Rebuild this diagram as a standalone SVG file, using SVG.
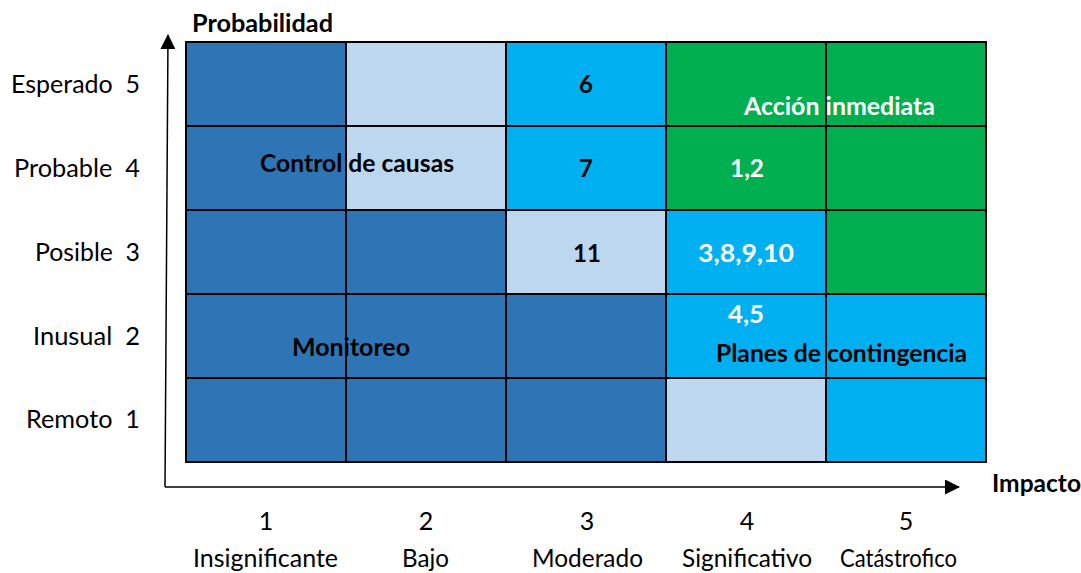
<svg xmlns="http://www.w3.org/2000/svg" width="1081" height="573" viewBox="0 0 1081 573">
<defs>
<style>
.dk{fill:#2E75B6}
.lt{fill:#BDD7EE}
.cy{fill:#00B0F0}
.gr{fill:#00B050}
.grid{stroke:#000;stroke-width:2;fill:none}
.lbl{font-family:Lato,"Open Sans","Liberation Sans",sans-serif;font-size:25px;fill:#000}
.b{font-family:Lato,"Open Sans","Liberation Sans",sans-serif;font-size:24px;font-weight:bold;fill:#000}
.w{fill:#fff}
.ax{stroke:#000;stroke-width:1.5;fill:none}
</style>
<marker id="ah" markerWidth="15" markerHeight="15" refX="14" refY="7.5" orient="auto" markerUnits="userSpaceOnUse">
<path d="M0,0 L15,7.5 L0,15 Z" fill="#000"/>
</marker>
</defs>
<rect width="1081" height="573" fill="#fff"/>

<g id="cells">
<rect class="dk" x="186" y="42" width="160" height="84"/>
<rect class="lt" x="346" y="42" width="160" height="84"/>
<rect class="cy" x="506" y="42" width="160" height="84"/>
<rect class="gr" x="666" y="42" width="160" height="84"/>
<rect class="gr" x="826" y="42" width="160" height="84"/>

<rect class="dk" x="186" y="126" width="160" height="84"/>
<rect class="lt" x="346" y="126" width="160" height="84"/>
<rect class="cy" x="506" y="126" width="160" height="84"/>
<rect class="gr" x="666" y="126" width="160" height="84"/>
<rect class="gr" x="826" y="126" width="160" height="84"/>

<rect class="dk" x="186" y="210" width="160" height="84"/>
<rect class="dk" x="346" y="210" width="160" height="84"/>
<rect class="lt" x="506" y="210" width="160" height="84"/>
<rect class="cy" x="666" y="210" width="160" height="84"/>
<rect class="gr" x="826" y="210" width="160" height="84"/>

<rect class="dk" x="186" y="294" width="160" height="84"/>
<rect class="dk" x="346" y="294" width="160" height="84"/>
<rect class="dk" x="506" y="294" width="160" height="84"/>
<rect class="cy" x="666" y="294" width="160" height="84"/>
<rect class="cy" x="826" y="294" width="160" height="84"/>

<rect class="dk" x="186" y="378" width="160" height="84"/>
<rect class="dk" x="346" y="378" width="160" height="84"/>
<rect class="dk" x="506" y="378" width="160" height="84"/>
<rect class="lt" x="666" y="378" width="160" height="84"/>
<rect class="cy" x="826" y="378" width="160" height="84"/>
</g>

<g id="gridlines" class="grid">
<rect x="186" y="42" width="800" height="420"/>
<path d="M346,42V462M506,42V462M666,42V462M826,42V462M186,126H986M186,210H986M186,294H986M186,378H986"/>
</g>

<g id="axes">
<path class="ax" d="M165,487 L168,35" marker-end="url(#ah)"/>
<path class="ax" d="M165,487 L959,487" marker-end="url(#ah)"/>
</g>

<g id="axis-titles">
<text class="b" x="192" y="32" textLength="141" lengthAdjust="spacingAndGlyphs">Probabilidad</text>
<text class="b" x="992" y="492" textLength="89" lengthAdjust="spacingAndGlyphs">Impacto</text>
</g>

<g id="y-labels" class="lbl" text-anchor="end">
<text x="140" y="93" xml:space="preserve" textLength="129" lengthAdjust="spacingAndGlyphs">Esperado  5</text>
<text x="140" y="177" xml:space="preserve" textLength="126" lengthAdjust="spacingAndGlyphs">Probable  4</text>
<text x="140" y="261" xml:space="preserve" textLength="105" lengthAdjust="spacingAndGlyphs">Posible  3</text>
<text x="140" y="345" xml:space="preserve" textLength="107" lengthAdjust="spacingAndGlyphs">Inusual  2</text>
<text x="140" y="428" xml:space="preserve" textLength="114" lengthAdjust="spacingAndGlyphs">Remoto  1</text>
</g>

<g id="x-labels" class="lbl" text-anchor="middle">
<text x="266" y="530">1</text>
<text x="426" y="530">2</text>
<text x="587" y="530">3</text>
<text x="747" y="530">4</text>
<text x="906" y="530">5</text>
<text x="265.5" y="567" textLength="145" lengthAdjust="spacingAndGlyphs">Insignificante</text>
<text x="425.5" y="567" textLength="47" lengthAdjust="spacingAndGlyphs">Bajo</text>
<text x="587.5" y="567" textLength="111" lengthAdjust="spacingAndGlyphs">Moderado</text>
<text x="747" y="567" textLength="130" lengthAdjust="spacingAndGlyphs">Significativo</text>
<text x="898.5" y="567" textLength="117" lengthAdjust="spacingAndGlyphs">Catástrofico</text>
</g>

<g id="cell-texts">
<text class="b" x="586" y="93" text-anchor="middle">6</text>
<text class="b" x="586" y="177" text-anchor="middle">7</text>
<text class="b" x="587" y="262" text-anchor="middle">11</text>
<text class="b w" x="747" y="177" text-anchor="middle" textLength="34" lengthAdjust="spacingAndGlyphs">1,2</text>
<text class="b w" x="746" y="262" text-anchor="middle" textLength="96" lengthAdjust="spacingAndGlyphs">3,8,9,10</text>
<text class="b w" x="746" y="323" text-anchor="middle" textLength="36" lengthAdjust="spacingAndGlyphs">4,5</text>
</g>

<g id="zone-labels">
<text class="b w" x="744" y="115" textLength="191" lengthAdjust="spacingAndGlyphs">Acción inmediata</text>
<text class="b" x="260" y="172" textLength="194" lengthAdjust="spacingAndGlyphs">Control de causas</text>
<text class="b" x="292" y="356" textLength="118" lengthAdjust="spacingAndGlyphs">Monitoreo</text>
<text class="b" x="716" y="362" textLength="251" lengthAdjust="spacingAndGlyphs">Planes de contingencia</text>
</g>
</svg>
